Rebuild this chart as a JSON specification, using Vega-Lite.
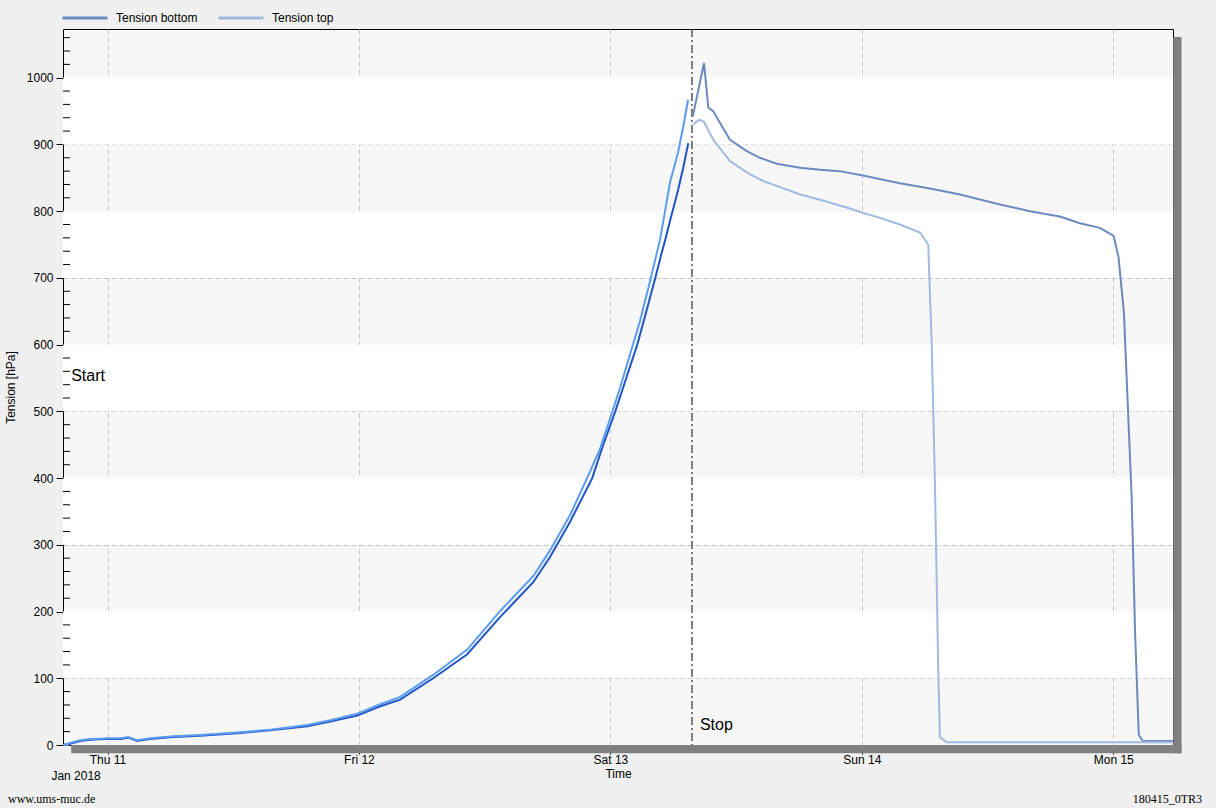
{
  "$schema": "https://vega.github.io/schema/vega-lite/v6.json",
  "autosize": {"type": "none"},
  "width": 1110,
  "height": 716,
  "padding": {"left": 63, "top": 29, "right": 43, "bottom": 63},
  "background": "#f0f0f0",
  "view": {"fill": "#f7f7f7", "stroke": "#000000", "strokeWidth": 1},
  "config": {
    "font": "Liberation Sans",
    "axis": {"labelFont": "Liberation Sans", "titleFont": "Liberation Sans", "labelFontSize": 12, "titleFontSize": 12, "titleFontWeight": "normal", "labelColor": "#000000", "titleColor": "#000000", "tickColor": "#000000"},
    "legend": {"labelFont": "Liberation Sans", "labelFontSize": 12, "labelColor": "#000000"}
  },
  "datasets": {
    "series": [
      {"t": "2018-01-10T19:46", "v": 0, "s": "Tension bottom", "p": "pre"},
      {"t": "2018-01-10T20:26", "v": 2, "s": "Tension bottom", "p": "pre"},
      {"t": "2018-01-10T21:24", "v": 6, "s": "Tension bottom", "p": "pre"},
      {"t": "2018-01-10T22:21", "v": 8, "s": "Tension bottom", "p": "pre"},
      {"t": "2018-01-10T23:18", "v": 8.5, "s": "Tension bottom", "p": "pre"},
      {"t": "2018-01-11T00:00", "v": 9, "s": "Tension bottom", "p": "pre"},
      {"t": "2018-01-11T01:13", "v": 9, "s": "Tension bottom", "p": "pre"},
      {"t": "2018-01-11T01:59", "v": 11, "s": "Tension bottom", "p": "pre"},
      {"t": "2018-01-11T02:50", "v": 6, "s": "Tension bottom", "p": "pre"},
      {"t": "2018-01-11T04:04", "v": 9, "s": "Tension bottom", "p": "pre"},
      {"t": "2018-01-11T06:16", "v": 12, "s": "Tension bottom", "p": "pre"},
      {"t": "2018-01-11T08:51", "v": 14, "s": "Tension bottom", "p": "pre"},
      {"t": "2018-01-11T12:40", "v": 18, "s": "Tension bottom", "p": "pre"},
      {"t": "2018-01-11T15:32", "v": 22, "s": "Tension bottom", "p": "pre"},
      {"t": "2018-01-11T19:04", "v": 28, "s": "Tension bottom", "p": "pre"},
      {"t": "2018-01-11T21:15", "v": 35, "s": "Tension bottom", "p": "pre"},
      {"t": "2018-01-11T23:50", "v": 44, "s": "Tension bottom", "p": "pre"},
      {"t": "2018-01-12T02:02", "v": 58, "s": "Tension bottom", "p": "pre"},
      {"t": "2018-01-12T03:56", "v": 68, "s": "Tension bottom", "p": "pre"},
      {"t": "2018-01-12T07:05", "v": 100, "s": "Tension bottom", "p": "pre"},
      {"t": "2018-01-12T10:20", "v": 136, "s": "Tension bottom", "p": "pre"},
      {"t": "2018-01-12T13:29", "v": 192, "s": "Tension bottom", "p": "pre"},
      {"t": "2018-01-12T16:38", "v": 244, "s": "Tension bottom", "p": "pre"},
      {"t": "2018-01-12T18:15", "v": 282, "s": "Tension bottom", "p": "pre"},
      {"t": "2018-01-12T20:10", "v": 335, "s": "Tension bottom", "p": "pre"},
      {"t": "2018-01-12T22:16", "v": 400, "s": "Tension bottom", "p": "pre"},
      {"t": "2018-01-12T23:19", "v": 450, "s": "Tension bottom", "p": "pre"},
      {"t": "2018-01-13T00:28", "v": 500, "s": "Tension bottom", "p": "pre"},
      {"t": "2018-01-13T01:31", "v": 550, "s": "Tension bottom", "p": "pre"},
      {"t": "2018-01-13T02:34", "v": 600, "s": "Tension bottom", "p": "pre"},
      {"t": "2018-01-13T03:26", "v": 650, "s": "Tension bottom", "p": "pre"},
      {"t": "2018-01-13T04:17", "v": 700, "s": "Tension bottom", "p": "pre"},
      {"t": "2018-01-13T04:51", "v": 735, "s": "Tension bottom", "p": "pre"},
      {"t": "2018-01-13T05:14", "v": 757, "s": "Tension bottom", "p": "pre"},
      {"t": "2018-01-13T05:43", "v": 787, "s": "Tension bottom", "p": "pre"},
      {"t": "2018-01-13T06:06", "v": 810, "s": "Tension bottom", "p": "pre"},
      {"t": "2018-01-13T06:28", "v": 832, "s": "Tension bottom", "p": "pre"},
      {"t": "2018-01-13T06:57", "v": 865, "s": "Tension bottom", "p": "pre"},
      {"t": "2018-01-13T07:26", "v": 902, "s": "Tension bottom", "p": "pre"},

      {"t": "2018-01-10T19:46", "v": 0, "s": "Tension top", "p": "pre"},
      {"t": "2018-01-10T20:26", "v": 3, "s": "Tension top", "p": "pre"},
      {"t": "2018-01-10T21:24", "v": 7, "s": "Tension top", "p": "pre"},
      {"t": "2018-01-10T22:21", "v": 9, "s": "Tension top", "p": "pre"},
      {"t": "2018-01-10T23:18", "v": 9.5, "s": "Tension top", "p": "pre"},
      {"t": "2018-01-11T00:00", "v": 10, "s": "Tension top", "p": "pre"},
      {"t": "2018-01-11T01:13", "v": 10, "s": "Tension top", "p": "pre"},
      {"t": "2018-01-11T01:59", "v": 12, "s": "Tension top", "p": "pre"},
      {"t": "2018-01-11T02:50", "v": 7, "s": "Tension top", "p": "pre"},
      {"t": "2018-01-11T04:04", "v": 10, "s": "Tension top", "p": "pre"},
      {"t": "2018-01-11T06:16", "v": 13, "s": "Tension top", "p": "pre"},
      {"t": "2018-01-11T08:51", "v": 15, "s": "Tension top", "p": "pre"},
      {"t": "2018-01-11T12:40", "v": 19, "s": "Tension top", "p": "pre"},
      {"t": "2018-01-11T15:32", "v": 23, "s": "Tension top", "p": "pre"},
      {"t": "2018-01-11T19:04", "v": 30, "s": "Tension top", "p": "pre"},
      {"t": "2018-01-11T21:15", "v": 37, "s": "Tension top", "p": "pre"},
      {"t": "2018-01-11T23:50", "v": 47, "s": "Tension top", "p": "pre"},
      {"t": "2018-01-12T02:02", "v": 61, "s": "Tension top", "p": "pre"},
      {"t": "2018-01-12T03:56", "v": 72, "s": "Tension top", "p": "pre"},
      {"t": "2018-01-12T07:05", "v": 105, "s": "Tension top", "p": "pre"},
      {"t": "2018-01-12T10:20", "v": 143, "s": "Tension top", "p": "pre"},
      {"t": "2018-01-12T13:29", "v": 201, "s": "Tension top", "p": "pre"},
      {"t": "2018-01-12T16:38", "v": 253, "s": "Tension top", "p": "pre"},
      {"t": "2018-01-12T18:15", "v": 292, "s": "Tension top", "p": "pre"},
      {"t": "2018-01-12T20:10", "v": 345, "s": "Tension top", "p": "pre"},
      {"t": "2018-01-12T22:04", "v": 410, "s": "Tension top", "p": "pre"},
      {"t": "2018-01-12T23:02", "v": 445, "s": "Tension top", "p": "pre"},
      {"t": "2018-01-12T23:59", "v": 490, "s": "Tension top", "p": "pre"},
      {"t": "2018-01-13T00:55", "v": 535, "s": "Tension top", "p": "pre"},
      {"t": "2018-01-13T01:52", "v": 585, "s": "Tension top", "p": "pre"},
      {"t": "2018-01-13T02:49", "v": 635, "s": "Tension top", "p": "pre"},
      {"t": "2018-01-13T03:47", "v": 695, "s": "Tension top", "p": "pre"},
      {"t": "2018-01-13T04:44", "v": 757, "s": "Tension top", "p": "pre"},
      {"t": "2018-01-13T05:13", "v": 800, "s": "Tension top", "p": "pre"},
      {"t": "2018-01-13T05:41", "v": 843, "s": "Tension top", "p": "pre"},
      {"t": "2018-01-13T06:04", "v": 865, "s": "Tension top", "p": "pre"},
      {"t": "2018-01-13T06:27", "v": 888, "s": "Tension top", "p": "pre"},
      {"t": "2018-01-13T06:56", "v": 925, "s": "Tension top", "p": "pre"},
      {"t": "2018-01-13T07:25", "v": 967, "s": "Tension top", "p": "pre"},

      {"t": "2018-01-13T07:52", "v": 942, "s": "Tension bottom", "p": "post"},
      {"t": "2018-01-13T08:56", "v": 1022, "s": "Tension bottom", "p": "post"},
      {"t": "2018-01-13T09:21", "v": 955, "s": "Tension bottom", "p": "post"},
      {"t": "2018-01-13T09:49", "v": 950, "s": "Tension bottom", "p": "post"},
      {"t": "2018-01-13T10:28", "v": 932, "s": "Tension bottom", "p": "post"},
      {"t": "2018-01-13T11:25", "v": 907, "s": "Tension bottom", "p": "post"},
      {"t": "2018-01-13T13:01", "v": 890, "s": "Tension bottom", "p": "post"},
      {"t": "2018-01-13T14:17", "v": 880, "s": "Tension bottom", "p": "post"},
      {"t": "2018-01-13T15:52", "v": 871, "s": "Tension bottom", "p": "post"},
      {"t": "2018-01-13T18:06", "v": 865, "s": "Tension bottom", "p": "post"},
      {"t": "2018-01-13T20:01", "v": 862, "s": "Tension bottom", "p": "post"},
      {"t": "2018-01-13T21:55", "v": 860, "s": "Tension bottom", "p": "post"},
      {"t": "2018-01-14T00:13", "v": 853, "s": "Tension bottom", "p": "post"},
      {"t": "2018-01-14T03:38", "v": 842, "s": "Tension bottom", "p": "post"},
      {"t": "2018-01-14T06:30", "v": 834, "s": "Tension bottom", "p": "post"},
      {"t": "2018-01-14T09:22", "v": 825, "s": "Tension bottom", "p": "post"},
      {"t": "2018-01-14T13:11", "v": 810, "s": "Tension bottom", "p": "post"},
      {"t": "2018-01-14T16:02", "v": 800, "s": "Tension bottom", "p": "post"},
      {"t": "2018-01-14T18:54", "v": 792, "s": "Tension bottom", "p": "post"},
      {"t": "2018-01-14T20:49", "v": 782, "s": "Tension bottom", "p": "post"},
      {"t": "2018-01-14T22:43", "v": 775, "s": "Tension bottom", "p": "post"},
      {"t": "2018-01-15T00:02", "v": 763, "s": "Tension bottom", "p": "post"},
      {"t": "2018-01-15T00:30", "v": 731, "s": "Tension bottom", "p": "post"},
      {"t": "2018-01-15T01:01", "v": 648, "s": "Tension bottom", "p": "post"},
      {"t": "2018-01-15T01:25", "v": 498, "s": "Tension bottom", "p": "post"},
      {"t": "2018-01-15T01:45", "v": 374, "s": "Tension bottom", "p": "post"},
      {"t": "2018-01-15T02:05", "v": 167, "s": "Tension bottom", "p": "post"},
      {"t": "2018-01-15T02:26", "v": 15, "s": "Tension bottom", "p": "post"},
      {"t": "2018-01-15T02:49", "v": 6, "s": "Tension bottom", "p": "post"},
      {"t": "2018-01-15T05:41", "v": 6, "s": "Tension bottom", "p": "post"},

      {"t": "2018-01-13T07:55", "v": 930, "s": "Tension top", "p": "post"},
      {"t": "2018-01-13T08:29", "v": 937, "s": "Tension top", "p": "post"},
      {"t": "2018-01-13T08:56", "v": 934, "s": "Tension top", "p": "post"},
      {"t": "2018-01-13T09:49", "v": 907, "s": "Tension top", "p": "post"},
      {"t": "2018-01-13T11:25", "v": 875, "s": "Tension top", "p": "post"},
      {"t": "2018-01-13T13:20", "v": 855, "s": "Tension top", "p": "post"},
      {"t": "2018-01-13T14:36", "v": 845, "s": "Tension top", "p": "post"},
      {"t": "2018-01-13T16:11", "v": 836, "s": "Tension top", "p": "post"},
      {"t": "2018-01-13T18:06", "v": 825, "s": "Tension top", "p": "post"},
      {"t": "2018-01-13T20:01", "v": 817, "s": "Tension top", "p": "post"},
      {"t": "2018-01-13T22:52", "v": 804, "s": "Tension top", "p": "post"},
      {"t": "2018-01-14T00:13", "v": 797, "s": "Tension top", "p": "post"},
      {"t": "2018-01-14T01:44", "v": 790, "s": "Tension top", "p": "post"},
      {"t": "2018-01-14T03:38", "v": 780, "s": "Tension top", "p": "post"},
      {"t": "2018-01-14T05:33", "v": 768, "s": "Tension top", "p": "post"},
      {"t": "2018-01-14T05:52", "v": 761, "s": "Tension top", "p": "post"},
      {"t": "2018-01-14T06:20", "v": 750, "s": "Tension top", "p": "post"},
      {"t": "2018-01-14T06:40", "v": 603, "s": "Tension top", "p": "post"},
      {"t": "2018-01-14T06:59", "v": 388, "s": "Tension top", "p": "post"},
      {"t": "2018-01-14T07:17", "v": 120, "s": "Tension top", "p": "post"},
      {"t": "2018-01-14T07:27", "v": 12, "s": "Tension top", "p": "post"},
      {"t": "2018-01-14T08:05", "v": 4, "s": "Tension top", "p": "post"},
      {"t": "2018-01-15T05:41", "v": 4, "s": "Tension top", "p": "post"}
    ],
    "bands": [
      {"v": 100, "v2": 200}, {"v": 300, "v2": 400}, {"v": 500, "v2": 600}, {"v": 700, "v2": 800}, {"v": 900, "v2": 1000}
    ],
    "shadow": [
      {"t": "2018-01-10T20:32", "t2": "2018-01-15T06:31", "v": -12.5, "v2": 0},
      {"t": "2018-01-15T05:43", "t2": "2018-01-15T06:31", "v": -12.5, "v2": 1061}
    ],
    "minor": [
      {"v": 20}, {"v": 40}, {"v": 60}, {"v": 80}, {"v": 120}, {"v": 140}, {"v": 160}, {"v": 180},
      {"v": 220}, {"v": 240}, {"v": 260}, {"v": 280}, {"v": 320}, {"v": 340}, {"v": 360}, {"v": 380},
      {"v": 420}, {"v": 440}, {"v": 460}, {"v": 480}, {"v": 520}, {"v": 540}, {"v": 560}, {"v": 580},
      {"v": 620}, {"v": 640}, {"v": 660}, {"v": 680}, {"v": 720}, {"v": 740}, {"v": 760}, {"v": 780},
      {"v": 820}, {"v": 840}, {"v": 860}, {"v": 880}, {"v": 920}, {"v": 940}, {"v": 960}, {"v": 980},
      {"v": 1020}, {"v": 1040}, {"v": 1060}
    ],
    "notes": [
      {"t": "2018-01-10T19:46", "v": 545, "label": "Start"},
      {"t": "2018-01-13T07:47", "v": 22, "label": "Stop"}
    ]
  },
  "layer": [
    {
      "data": {"name": "bands"},
      "mark": {"type": "rect", "color": "#ffffff"},
      "encoding": {
        "y": {"field": "v", "type": "quantitative", "scale": {"domain": [0, 1073], "nice": false, "zero": false}},
        "y2": {"field": "v2"}
      }
    },
    {
      "data": {"name": "shadow"},
      "mark": {"type": "rect", "color": "#808080", "clip": false},
      "encoding": {
        "x": {"field": "t", "type": "temporal", "scale": {"domain": [{"year": 2018, "month": 1, "date": 10, "hours": 19, "minutes": 45}, {"year": 2018, "month": 1, "date": 15, "hours": 5, "minutes": 42}], "nice": false}},
        "x2": {"field": "t2"},
        "y": {"field": "v", "type": "quantitative", "scale": {"domain": [0, 1073], "nice": false, "zero": false}},
        "y2": {"field": "v2"}
      }
    },
    {
      "data": {"name": "minor"},
      "mark": {"type": "rule", "color": "#000000", "strokeWidth": 1},
      "encoding": {
        "x": {"datum": {"year": 2018, "month": 1, "date": 10, "hours": 19, "minutes": 45}, "type": "temporal"},
        "x2": {"datum": {"year": 2018, "month": 1, "date": 10, "hours": 20, "minutes": 25}},
        "y": {"field": "v", "type": "quantitative"}
      }
    },
    {
      "data": {"values": [{"t": "2018-01-13T07:47"}]},
      "mark": {"type": "rule", "color": "#555555", "strokeWidth": 1.5, "strokeDash": [8, 3, 2, 3]},
      "encoding": {
        "x": {"field": "t", "type": "temporal"}
      }
    },
    {
      "data": {"name": "series"},
      "transform": [{"filter": "datum.p === 'post'"}],
      "mark": {"type": "line", "strokeWidth": 2, "interpolate": "linear"},
      "encoding": {
        "x": {
          "field": "t", "type": "temporal", "title": "Time",
          "scale": {"domain": [{"year": 2018, "month": 1, "date": 10, "hours": 19, "minutes": 45}, {"year": 2018, "month": 1, "date": 15, "hours": 5, "minutes": 42}], "nice": false},
          "axis": {
            "values": [{"year": 2018, "month": 1, "date": 11}, {"year": 2018, "month": 1, "date": 12}, {"year": 2018, "month": 1, "date": 13}, {"year": 2018, "month": 1, "date": 14}, {"year": 2018, "month": 1, "date": 15}],
            "format": "%a %d", "domain": false, "tickSize": 9, "labelPadding": 0,
            "grid": true, "gridDash": [5, 3], "gridColor": "#c8c8c8", "gridWidth": 1,
            "titlePadding": 3, "labelFlush": false, "labelOverlap": false
          }
        },
        "y": {
          "field": "v", "type": "quantitative", "title": "Tension [hPa]",
          "scale": {"domain": [0, 1073], "nice": false, "zero": false},
          "axis": {
            "values": [0, 100, 200, 300, 400, 500, 600, 700, 800, 900, 1000],
            "format": "d",
            "tickSize": 7, "labelOverlap": false,
            "grid": true, "gridDash": [5, 3], "gridColor": "#c4c4c4",
            "domain": false, "labelPadding": 3, "labelFlush": false,
            "titleX": -53, "titleBaseline": "middle"
          }
        },
        "color": {
          "field": "s", "type": "nominal",
          "scale": {"domain": ["Tension bottom", "Tension top"], "range": ["#6b8bbf", "#a0b9e2"]},
          "legend": {"orient": "none", "legendX": -2, "legendY": -35, "direction": "horizontal", "title": null, "symbolType": "stroke", "symbolSize": 2025, "symbolStrokeWidth": 3, "labelOffset": 7, "columnPadding": 14, "padding": 0}
        }
      }
    },
    {
      "data": {"name": "series"},
      "transform": [{"filter": "datum.p === 'pre'"}],
      "mark": {"type": "line", "strokeWidth": 2},
      "encoding": {
        "x": {"field": "t", "type": "temporal"},
        "y": {"field": "v", "type": "quantitative"},
        "color": {
          "field": "s", "type": "nominal",
          "scale": {"domain": ["Tension bottom", "Tension top"], "range": ["#1f55c4", "#5c9cf0"]},
          "legend": null
        }
      }
    },
    {
      "data": {"name": "notes"},
      "mark": {"type": "text", "align": "left", "baseline": "alphabetic", "dx": 8, "fontSize": 16, "font": "Liberation Sans", "color": "#000000"},
      "encoding": {
        "x": {"field": "t", "type": "temporal"},
        "y": {"field": "v", "type": "quantitative"},
        "text": {"field": "label"}
      }
    },
    {
      "data": {"values": [{"t": "2018-01-10T21:00", "v": 0, "label": "Jan 2018"}]},
      "mark": {"type": "text", "align": "center", "baseline": "alphabetic", "dy": 35, "fontSize": 12, "font": "Liberation Sans", "color": "#000000"},
      "encoding": {
        "x": {"field": "t", "type": "temporal"},
        "y": {"field": "v", "type": "quantitative"},
        "text": {"field": "label"}
      }
    },
    {
      "data": {"values": [{"t": "2018-01-10T19:45", "v": 0, "label": "www.ums-muc.de"}]},
      "mark": {"type": "text", "align": "left", "baseline": "alphabetic", "dx": -55, "dy": 58, "fontSize": 12, "font": "Liberation Serif", "color": "#000000"},
      "encoding": {
        "x": {"field": "t", "type": "temporal"},
        "y": {"field": "v", "type": "quantitative"},
        "text": {"field": "label"}
      }
    },
    {
      "data": {"values": [{"t": "2018-01-15T05:42", "v": 0, "label": "180415_0TR3"}]},
      "mark": {"type": "text", "align": "right", "baseline": "alphabetic", "dx": 29, "dy": 58, "fontSize": 12, "font": "Liberation Serif", "color": "#000000"},
      "encoding": {
        "x": {"field": "t", "type": "temporal"},
        "y": {"field": "v", "type": "quantitative"},
        "text": {"field": "label"}
      }
    }
  ],
  "resolve": {"scale": {"color": "independent"}}
}
